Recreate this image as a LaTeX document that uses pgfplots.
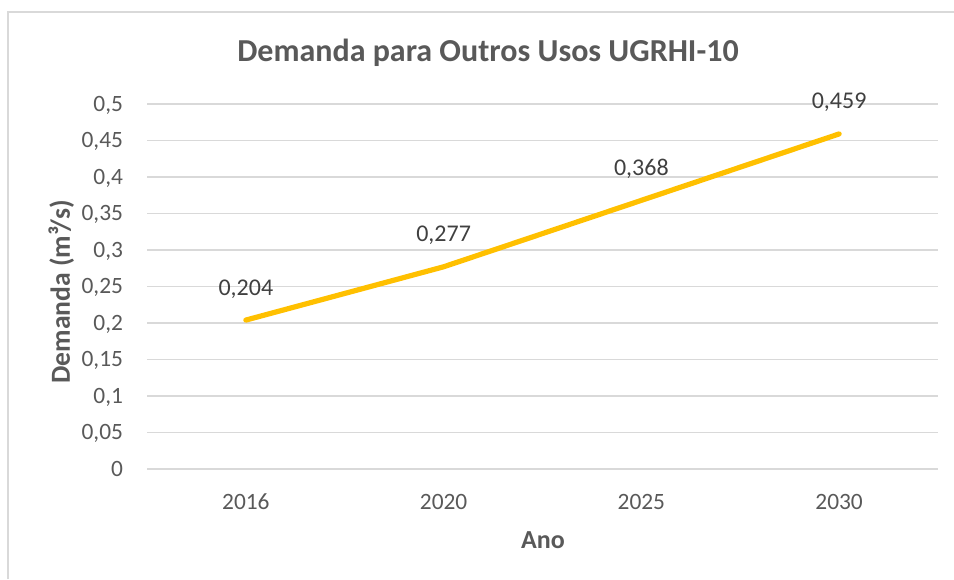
\documentclass[border=0pt]{standalone}
\usepackage{fontspec}
\setmainfont{Carlito}
\usepackage{pgfplots}
\usepackage{pgfplotstable}
\pgfplotsset{compat=1.18}
\definecolor{gridc}{HTML}{D9D9D9}
\definecolor{txt}{HTML}{595959}
\definecolor{lbl}{HTML}{404040}
\definecolor{gold}{HTML}{FFC000}
\pgfplotstableread{
x y label
0 0.204 0,204
1 0.277 0,277
2 0.368 0,368
3 0.459 0,459
}\demanda
\begin{document}
\begin{tikzpicture}
\useasboundingbox (0,0) rectangle (477pt,289.5pt);
\draw[gridc, line width=0.75pt] (4pt,0) -- (4pt,283.5pt) -- (477pt,283.5pt);
\begin{axis}[
  at={(73.5pt,55pt)}, anchor=south west,
  scale only axis, width=395.5pt, height=182.5pt,
  xmin=-0.5, xmax=3.5, ymin=0, ymax=0.5,
  xtick={0,1,2,3}, xticklabels={2016,2020,2025,2030},
  ytick={0,0.05,...,0.51},
  axis line style={draw=none},
  major tick length=0pt,
  ymajorgrids, grid style={gridc, line width=0.75pt},
  /pgf/number format/.cd, use comma, fixed, precision=2, assume math mode=true, 1000 sep={},
  /pgfplots/.cd,
  yticklabel style={anchor=east, inner sep=0pt, xshift=-11.8pt, text height=7.3pt, text depth=0pt, font=\fontsize{11.7pt}{13pt}\selectfont, text=txt},
  xticklabel style={anchor=north, inner sep=0pt, yshift=-12.5pt, text height=7.3pt, text depth=0pt, font=\fontsize{11.7pt}{13pt}\selectfont, text=txt},
  clip=false,
]
\addplot[gold, line width=2.6pt, line cap=round, line join=round,
  nodes near coords, point meta=explicit symbolic,
  every node near coord/.style={anchor=base, inner sep=0pt, yshift=12.5pt, font=\fontsize{12pt}{14pt}\selectfont, text=lbl}]
  table[x=x, y=y, meta=label] {\demanda};
\end{axis}
\node[anchor=base, text=txt, font=\bfseries\fontsize{16pt}{19pt}\selectfont, inner sep=0pt] at (244pt,258.5pt) {Demanda para Outros Usos UGRHI-10};
\node[anchor=base, text=txt, font=\bfseries\fontsize{13pt}{15pt}\selectfont, inner sep=0pt] at (271.5pt,15.5pt) {Ano};
\node[anchor=base, rotate=90, text=txt, font=\bfseries\fontsize{13.8pt}{16pt}\selectfont, inner sep=0pt] at (35pt,143.5pt) {Demanda (m³/s)};
\end{tikzpicture}
\end{document}
